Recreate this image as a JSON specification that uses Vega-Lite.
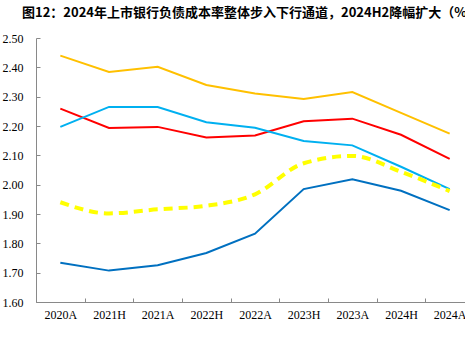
{
  "$schema": "https://vega.github.io/schema/vega-lite/v6.json",
  "autosize": {"type": "none"},
  "width": 438,
  "height": 264,
  "padding": {"left": 36, "top": 38, "right": 0, "bottom": 51},
  "background": "white",
  "title": {
    "text": "图12：2024年上市银行负债成本率整体步入下行通道，2024H2降幅扩大（%）",
    "font": "Noto Sans CJK SC",
    "fontSize": 13,
    "fontWeight": "bold",
    "color": "#000000",
    "anchor": "start",
    "frame": "group",
    "dx": -14,
    "offset": 12
  },
  "config": {"view": {"stroke": null}},
  "data": {
    "values": [
      {"period": "2020A", "series": "S1", "value": 2.44},
      {"period": "2021H", "series": "S1", "value": 2.384},
      {"period": "2021A", "series": "S1", "value": 2.402},
      {"period": "2022H", "series": "S1", "value": 2.34},
      {"period": "2022A", "series": "S1", "value": 2.311},
      {"period": "2023H", "series": "S1", "value": 2.292},
      {"period": "2023A", "series": "S1", "value": 2.316},
      {"period": "2024H", "series": "S1", "value": 2.245},
      {"period": "2024A", "series": "S1", "value": 2.174},
      {"period": "2020A", "series": "S2", "value": 2.259},
      {"period": "2021H", "series": "S2", "value": 2.193},
      {"period": "2021A", "series": "S2", "value": 2.197},
      {"period": "2022H", "series": "S2", "value": 2.161},
      {"period": "2022A", "series": "S2", "value": 2.168},
      {"period": "2023H", "series": "S2", "value": 2.216},
      {"period": "2023A", "series": "S2", "value": 2.225},
      {"period": "2024H", "series": "S2", "value": 2.17},
      {"period": "2024A", "series": "S2", "value": 2.088},
      {"period": "2020A", "series": "S3", "value": 2.197},
      {"period": "2021H", "series": "S3", "value": 2.265},
      {"period": "2021A", "series": "S3", "value": 2.265},
      {"period": "2022H", "series": "S3", "value": 2.213},
      {"period": "2022A", "series": "S3", "value": 2.194},
      {"period": "2023H", "series": "S3", "value": 2.149},
      {"period": "2023A", "series": "S3", "value": 2.134},
      {"period": "2024H", "series": "S3", "value": 2.061},
      {"period": "2024A", "series": "S3", "value": 1.985},
      {"period": "2020A", "series": "S5", "value": 1.734},
      {"period": "2021H", "series": "S5", "value": 1.707},
      {"period": "2021A", "series": "S5", "value": 1.725},
      {"period": "2022H", "series": "S5", "value": 1.767},
      {"period": "2022A", "series": "S5", "value": 1.833},
      {"period": "2023H", "series": "S5", "value": 1.985},
      {"period": "2023A", "series": "S5", "value": 2.018},
      {"period": "2024H", "series": "S5", "value": 1.979},
      {"period": "2024A", "series": "S5", "value": 1.913},
      {"period": "2020A", "series": "S4", "value": 1.94},
      {"period": "2021H", "series": "S4", "value": 1.902},
      {"period": "2021A", "series": "S4", "value": 1.916},
      {"period": "2022H", "series": "S4", "value": 1.928},
      {"period": "2022A", "series": "S4", "value": 1.967},
      {"period": "2023H", "series": "S4", "value": 2.073},
      {"period": "2023A", "series": "S4", "value": 2.098},
      {"period": "2024H", "series": "S4", "value": 2.044},
      {"period": "2024A", "series": "S4", "value": 1.978}
    ]
  },
  "encoding": {
    "x": {
      "field": "period",
      "type": "nominal",
      "sort": null,
      "scale": {"type": "band", "paddingInner": 0, "paddingOuter": 0},
      "axis": {
        "title": null,
        "labelAngle": 0,
        "labelFont": "Liberation Serif",
        "labelFontSize": 12,
        "labelColor": "#000000",
        "labelPadding": 11,
        "tickBand": "extent",
        "tickSize": -4,
        "tickColor": "#898989",
        "domainColor": "#898989",
        "grid": false
      }
    },
    "y": {
      "field": "value",
      "type": "quantitative",
      "scale": {"domain": [1.6, 2.5], "nice": false, "zero": false},
      "axis": {
        "title": null,
        "values": [1.6, 1.7, 1.8, 1.9, 2.0, 2.1, 2.2, 2.3, 2.4, 2.5],
        "format": ".2f",
        "labelFont": "Liberation Serif",
        "labelFontSize": 12,
        "labelColor": "#000000",
        "labelPadding": 17,
        "tickSize": -4,
        "tickColor": "#898989",
        "domainColor": "#898989",
        "grid": false
      }
    }
  },
  "layer": [
    {
      "transform": [{"filter": "datum.series != 'S4'"}],
      "mark": {"type": "line", "strokeWidth": 2},
      "encoding": {
        "color": {
          "field": "series",
          "type": "nominal",
          "scale": {"domain": ["S1", "S2", "S3", "S5"], "range": ["#FFC000", "#FF0000", "#00B0F0", "#0070C0"]},
          "legend": null
        }
      }
    },
    {
      "transform": [{"filter": "datum.series == 'S4'"}],
      "mark": {"type": "line", "strokeWidth": 4, "color": "#FFFF00", "strokeDash": [9, 6], "interpolate": "monotone"},
      "encoding": {}
    }
  ]
}
